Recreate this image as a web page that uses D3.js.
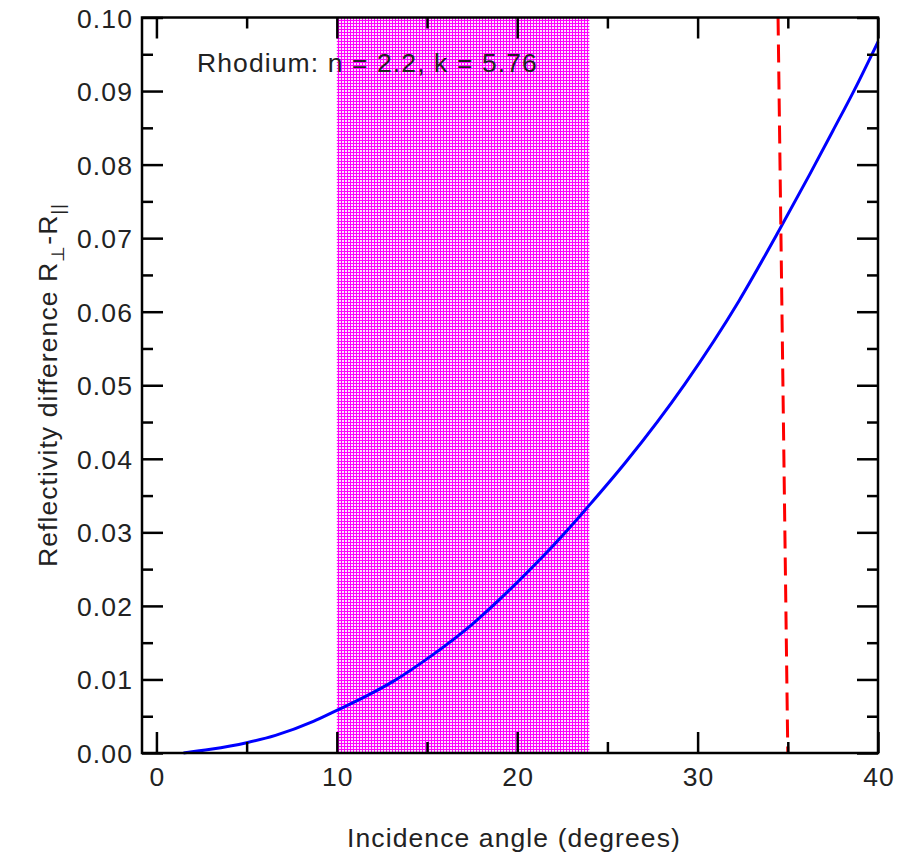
<!DOCTYPE html>
<html>
<head>
<meta charset="utf-8">
<script src="https://cdn.jsdelivr.net/npm/d3@7"></script>
<style>
  html, body { margin: 0; padding: 0; background: #fff; }
  svg { display: block; font-family: "Liberation Sans", Arial, Helvetica, sans-serif; }
</style>
</head>
<body>
<svg id="chart" width="904" height="857"></svg>
<script>
// Rhodium reflectivity difference R_perp - R_par versus incidence angle
const angleDeg = [1.5, 3.0, 5.0, 6.6, 8.7, 10.0, 11.6, 13.1, 15.0, 17.5, 20.0, 22.6, 24.0, 26.0, 29.3, 32.3, 34.55, 36.2, 37.5, 38.7, 40.0];
const reflDiff = [0.0000, 0.0005, 0.0014, 0.0024, 0.0043, 0.0058, 0.0077, 0.0097, 0.0128, 0.0175, 0.0232, 0.0298, 0.0337, 0.0395, 0.0502, 0.0615, 0.0712, 0.0786, 0.0846, 0.0902, 0.0967];

// dashed marker line (nearly vertical)
const markerAngle = [34.46, 35.0];
const markerValue = [0.10, 0.0];

// shaded angular range
const bandRange = [10, 24];

const xMajorTicks = [0, 10, 20, 30, 40];
const xMinorTicks = [5, 15, 25, 35];
const yMajorTicks = [0, 0.01, 0.02, 0.03, 0.04, 0.05, 0.06, 0.07, 0.08, 0.09, 0.10];
const yMinorTicks = [0.005, 0.015, 0.025, 0.035, 0.045, 0.055, 0.065, 0.075, 0.085, 0.095];

const svg = d3.select("#chart");
const L = 142, R = 878, T = 17.5, B = 753;

const x = d3.scaleLinear().domain([-0.8, 40]).range([L, R]);
const y = d3.scaleLinear().domain([0, 0.1]).range([B, T]);

// dotted magenta fill
const defs = svg.append("defs");
const pat = defs.append("pattern")
  .attr("id", "dots").attr("patternUnits", "userSpaceOnUse")
  .attr("width", 3).attr("height", 3);
pat.append("rect").attr("width", 3).attr("height", 3).attr("fill", "#ff00ff");
pat.append("rect").attr("width", 2).attr("height", 2).attr("fill", "#ffe0ff");

svg.append("rect")
  .attr("x", x(bandRange[0])).attr("y", T)
  .attr("width", x(bandRange[1]) - x(bandRange[0]))
  .attr("height", B - T)
  .attr("fill", "url(#dots)");

const FONT = 26.5, LS = 1.1;

// annotation
svg.append("text")
  .attr("x", 197).attr("y", 72)
  .attr("font-size", FONT).attr("letter-spacing", LS)
  .attr("fill", "#222")
  .text("Rhodium: n = 2.2, k = 5.76");

// curve
const line = d3.line().x((d, i) => x(angleDeg[i])).y(d => y(d)).curve(d3.curveMonotoneX);
svg.append("path")
  .attr("d", line(reflDiff))
  .attr("fill", "none").attr("stroke", "#0000ff").attr("stroke-width", 3);

// dashed marker
const mline = d3.line().x((d, i) => x(markerAngle[i])).y(d => y(d));
svg.append("path")
  .attr("d", mline(markerValue))
  .attr("fill", "none").attr("stroke", "#ff0000").attr("stroke-width", 3)
  .attr("stroke-dasharray", "18,9");

// axes: frame with inward ticks on all four sides
const axisStyle = g => {
  g.selectAll(".domain").remove();
  g.selectAll("line").attr("stroke", "#000").attr("stroke-width", 2.5);
};
const MAJ = 21, MIN = 11;

svg.append("g").attr("transform", `translate(0,${B})`)
  .call(d3.axisTop(x).tickValues(xMajorTicks).tickSize(MAJ).tickFormat(""))
  .call(axisStyle);
svg.append("g").attr("transform", `translate(0,${B})`)
  .call(d3.axisTop(x).tickValues(xMinorTicks).tickSize(MIN).tickFormat(""))
  .call(axisStyle);
svg.append("g").attr("transform", `translate(0,${T})`)
  .call(d3.axisBottom(x).tickValues(xMajorTicks).tickSize(MAJ).tickFormat(""))
  .call(axisStyle);
svg.append("g").attr("transform", `translate(0,${T})`)
  .call(d3.axisBottom(x).tickValues(xMinorTicks).tickSize(MIN).tickFormat(""))
  .call(axisStyle);
svg.append("g").attr("transform", `translate(${L},0)`)
  .call(d3.axisRight(y).tickValues(yMajorTicks).tickSize(MAJ).tickFormat(""))
  .call(axisStyle);
svg.append("g").attr("transform", `translate(${L},0)`)
  .call(d3.axisRight(y).tickValues(yMinorTicks).tickSize(MIN).tickFormat(""))
  .call(axisStyle);
svg.append("g").attr("transform", `translate(${R},0)`)
  .call(d3.axisLeft(y).tickValues(yMajorTicks).tickSize(MAJ).tickFormat(""))
  .call(axisStyle);
svg.append("g").attr("transform", `translate(${R},0)`)
  .call(d3.axisLeft(y).tickValues(yMinorTicks).tickSize(MIN).tickFormat(""))
  .call(axisStyle);

svg.append("rect")
  .attr("x", L).attr("y", T).attr("width", R - L).attr("height", B - T)
  .attr("fill", "none").attr("stroke", "#000").attr("stroke-width", 2.5);

// tick labels
svg.append("g").selectAll("text").data(xMajorTicks).join("text")
  .attr("x", d => x(d) + 1).attr("y", 786)
  .attr("text-anchor", "middle")
  .attr("font-size", FONT).attr("letter-spacing", LS).attr("fill", "#222")
  .text(d => d3.format("d")(d));

svg.append("g").selectAll("text").data(yMajorTicks).join("text")
  .attr("x", 133).attr("y", d => y(d) + 10)
  .attr("text-anchor", "end")
  .attr("font-size", FONT).attr("letter-spacing", LS).attr("fill", "#222")
  .text(d => d3.format(".2f")(d));

// axis titles
svg.append("text")
  .attr("x", 514).attr("y", 847)
  .attr("text-anchor", "middle")
  .attr("font-size", FONT).attr("letter-spacing", LS).attr("fill", "#222")
  .text("Incidence angle (degrees)");

const yt = svg.append("text")
  .attr("transform", "translate(57,385) rotate(-90)")
  .attr("text-anchor", "middle")
  .attr("font-size", FONT).attr("letter-spacing", LS).attr("fill", "#222");
yt.append("tspan").text("Reflectivity difference R");
yt.append("tspan").attr("dy", 7).attr("font-size", 18).text("⊥");
yt.append("tspan").attr("dy", -7).text("-R");
yt.append("tspan").attr("dy", 7).attr("font-size", 18).text("||");
</script>
</body>
</html>
